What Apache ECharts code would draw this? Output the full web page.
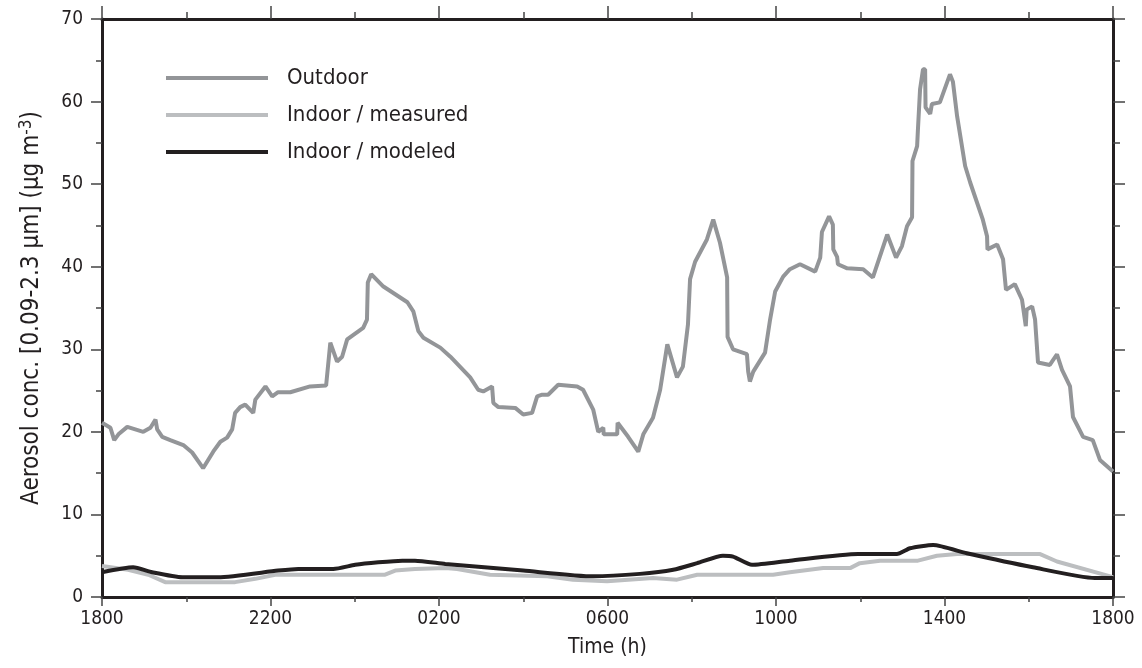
<!DOCTYPE html>
<html>
<head>
<meta charset="utf-8">
<script src="https://cdn.jsdelivr.net/npm/echarts@6/dist/echarts.min.js"></script>
<style>
  html, body { margin: 0; padding: 0; background: #fff; }
  #chart { width: 1142px; height: 668px; }
</style>
</head>
<body>
<div id="chart"></div>
<script>
// Hours elapsed since 1800 (0..24)
const outdoorHours = [0,0.2,0.29,0.39,0.6,0.98,1.15,1.27,1.31,1.43,1.62,1.93,2.14,2.4,2.64,2.81,2.97,3.09,3.16,3.28,3.4,3.59,3.64,3.88,4.04,4.18,4.47,4.94,5.32,5.42,5.58,5.7,5.82,6.2,6.29,6.31,6.39,6.68,7.25,7.39,7.51,7.63,8.03,8.27,8.74,8.93,9.05,9.26,9.29,9.41,9.81,10.0,10.21,10.33,10.45,10.59,10.83,11.28,11.42,11.66,11.78,11.9,11.91,12.23,12.24,12.49,12.73,12.85,13.08,13.25,13.42,13.65,13.79,13.91,13.96,14.08,14.36,14.51,14.67,14.84,14.85,14.98,15.31,15.34,15.38,15.46,15.74,15.86,15.98,16.17,16.33,16.57,16.93,17.05,17.09,17.26,17.35,17.36,17.45,17.47,17.69,18.07,18.3,18.64,18.85,18.99,19.11,19.23,19.24,19.35,19.37,19.42,19.49,19.54,19.55,19.66,19.7,19.89,20.13,20.2,20.3,20.49,20.61,20.91,21.01,21.02,21.25,21.39,21.46,21.67,21.84,21.93,21.95,22.08,22.15,22.22,22.5,22.67,22.79,22.98,23.05,23.29,23.52,23.69,24];
const outdoorValues = [21.1,20.5,19.0,19.7,20.6,20.0,20.5,21.5,20.3,19.4,19.0,18.4,17.5,15.6,17.6,18.8,19.3,20.3,22.3,23.0,23.3,22.3,23.9,25.5,24.3,24.8,24.8,25.5,25.6,30.8,28.5,29.1,31.2,32.6,33.6,38.1,39.1,37.6,35.7,34.6,32.2,31.4,30.2,29.1,26.6,25.1,24.9,25.5,23.5,23.0,22.9,22.1,22.3,24.3,24.5,24.5,25.7,25.5,25.1,22.7,20.0,20.5,19.7,19.7,21.1,19.4,17.6,19.7,21.7,25.1,30.6,26.6,27.9,33.0,38.5,40.6,43.3,45.7,42.9,38.7,31.5,30.0,29.4,27.3,26.1,27.3,29.6,33.6,37.0,38.8,39.7,40.3,39.4,41.1,44.2,46.1,45.1,42.1,41.2,40.3,39.8,39.7,38.7,43.9,41.1,42.5,44.9,46.0,52.8,54.6,56.7,61.5,63.9,63.9,59.3,58.5,59.7,59.9,63.3,62.4,58.2,52.2,50.2,45.7,43.7,42.1,42.7,40.9,37.2,37.9,36.0,32.8,34.8,35.2,33.6,28.4,28.1,29.4,27.5,25.5,21.8,19.4,19.0,16.6,15.2];

const measuredHours = [0,0.62,1.1,1.5,3.16,3.64,4.11,6.72,6.96,7.43,8.15,8.43,9.21,10.57,11.18,11.99,13.08,13.65,14.13,15.93,16.33,17.12,17.76,17.99,18.47,19.37,19.82,20.3,22.27,22.67,24];
const measuredValues = [3.75,3.3,2.7,1.8,1.8,2.2,2.7,2.7,3.2,3.4,3.5,3.4,2.7,2.5,2.1,1.9,2.3,2.1,2.7,2.7,3.0,3.5,3.5,4.1,4.4,4.4,5.0,5.2,5.2,4.3,2.4];

const modeledHours = [0,0.74,1.19,1.91,2.76,4.18,4.66,5.49,6.01,6.56,7.13,7.43,8.15,10.0,11.66,12.77,13.56,14.13,14.74,14.98,15.43,16.33,17.95,18.87,19.18,19.73,20.53,22.1,23.57,24];
const modeledValues = [3.0,3.6,3.0,2.4,2.4,3.2,3.4,3.4,3.9,4.2,4.4,4.4,4.0,3.2,2.5,2.8,3.3,4.1,5.0,4.9,3.9,4.4,5.2,5.2,5.9,6.3,5.3,3.6,2.3,2.3];

const seriesNames = ['Outdoor', 'Indoor / measured', 'Indoor / modeled'];
const seriesColors = ['#939598', '#bcbec0', '#231f20'];

function pairs(h, v) { return h.map((x, i) => [x, v[i]]); }
function clockLabel(v) {
  const hr = (18 + v) % 24;
  return String(hr * 100).padStart(4, '0');
}

const FONT = "'Liberation Sans Narrow', 'DejaVu Sans Condensed', 'Liberation Sans', sans-serif";
const frame = { show: true, onZero: false, lineStyle: { color: '#231f20', width: 3 } };
const tickStyle = { color: '#444', width: 1.5 };

const chart = echarts.init(document.getElementById('chart'), null, { renderer: 'canvas' });
chart.setOption({
  animation: false,
  backgroundColor: '#fff',
  grid: { left: 102, right: 29, top: 19, bottom: 71, containLabel: false },
  legend: {
    orient: 'vertical', left: 166, top: 63, padding: 0,
    itemWidth: 102, itemHeight: 4, itemGap: 7,
    icon: 'rect',
    data: seriesNames,
    textStyle: { fontFamily: FONT, fontSize: 22, color: '#231f20', lineHeight: 30, padding: [0, 0, 0, 14] }
  },
  xAxis: [
    {
      type: 'value', position: 'bottom', min: 0, max: 24, interval: 4,
      axisLine: frame,
      axisTick: { show: true, length: 9, lineStyle: tickStyle },
      minorTick: { show: true, splitNumber: 2, length: 5, lineStyle: tickStyle },
      splitLine: { show: false },
      axisLabel: { formatter: clockLabel, margin: 13, fontFamily: FONT, fontSize: 19, color: '#231f20' },
      name: 'Time (h)', nameLocation: 'middle', nameGap: 40,
      nameTextStyle: { fontFamily: FONT, fontSize: 21, color: '#231f20' }
    },
    {
      type: 'value', position: 'top', min: 0, max: 24, interval: 4,
      axisLine: frame,
      axisTick: { show: true, length: 13, lineStyle: tickStyle },
      minorTick: { show: true, splitNumber: 2, length: 7, lineStyle: tickStyle },
      splitLine: { show: false },
      axisLabel: { show: false }
    }
  ],
  yAxis: [
    {
      type: 'value', position: 'left', min: 0, max: 70, interval: 10,
      axisLine: frame,
      axisTick: { show: true, length: 11, lineStyle: tickStyle },
      minorTick: { show: true, splitNumber: 2, length: 6, lineStyle: tickStyle },
      splitLine: { show: false },
      axisLabel: { margin: 19, fontFamily: FONT, fontSize: 19, color: '#231f20' },
      name: '{a|Aerosol conc. [0.09-2.3 \u00B5m] (\u00B5g m}{s|-3}{a|)}',
      nameLocation: 'middle', nameGap: 57, nameRotate: 90,
      nameTextStyle: {
        padding: [0, 0, 0, 0],
        rich: {
          a: { fontFamily: FONT, fontSize: 24, color: '#231f20' },
          s: { fontFamily: FONT, fontSize: 17, color: '#231f20', verticalAlign: 'top', padding: [0, 0, 10, 0] }
        }
      }
    },
    {
      type: 'value', position: 'right', min: 0, max: 70, interval: 10,
      axisLine: frame,
      axisTick: { show: true, length: 12, lineStyle: tickStyle },
      minorTick: { show: true, splitNumber: 2, length: 7, lineStyle: tickStyle },
      splitLine: { show: false },
      axisLabel: { show: false }
    }
  ],
  series: [
    { name: seriesNames[0], type: 'line', data: pairs(outdoorHours, outdoorValues), symbol: 'none',
      lineStyle: { color: seriesColors[0], width: 4 }, itemStyle: { color: seriesColors[0] } },
    { name: seriesNames[1], type: 'line', data: pairs(measuredHours, measuredValues), symbol: 'none',
      lineStyle: { color: seriesColors[1], width: 4 }, itemStyle: { color: seriesColors[1] } },
    { name: seriesNames[2], type: 'line', data: pairs(modeledHours, modeledValues), symbol: 'none', smooth: 0.2,
      lineStyle: { color: seriesColors[2], width: 4 }, itemStyle: { color: seriesColors[2] } }
  ]
});
</script>
</body>
</html>
